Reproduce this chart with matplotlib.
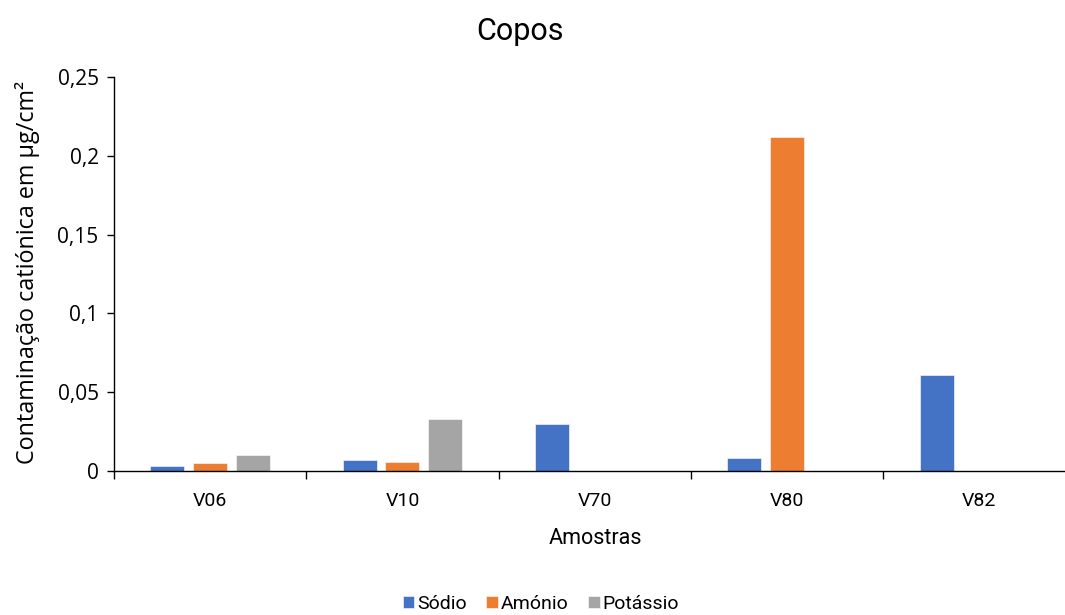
import matplotlib
matplotlib.use("Agg")
import matplotlib.pyplot as plt
import numpy as np

# data
amostras = ["V06", "V10", "V70", "V80", "V82"]
sodio = [0.003, 0.007, 0.030, 0.008, 0.061]
amonio = [0.005, 0.006, 0.0, 0.212, 0.0]
potassio = [0.010, 0.033, 0.0, 0.0, 0.0]

series = [("Sódio", sodio, "#4472C4"),
          ("Amónio", amonio, "#ED7D31"),
          ("Potássio", potassio, "#A5A5A5")]

narrow = ['Roboto', 'DejaVu Sans']
plain = ['Open Sans', 'DejaVu Sans']
plt.rcParams['font.family'] = plain

fig = plt.figure(figsize=(10.65, 6.15), dpi=100)
ax = fig.add_axes([114/1065, 1-471/615, 961.5/1065, 394/615])

x = np.arange(len(amostras))
w = 0.177
step = 0.222
for i, (nome, vals, cor) in enumerate(series):
    ax.bar(x + (i-1)*step, vals, width=w, color=cor, label=nome,
           edgecolor='white', linewidth=0.4)

ax.set_xlim(-0.5, len(amostras)-0.5)
ax.set_ylim(0, 0.25)
ax.set_yticks([0, 0.05, 0.1, 0.15, 0.2, 0.25])
ax.set_yticklabels(["0", "0,05", "0,1", "0,15", "0,2", "0,25"], fontsize=15)
ax.set_xticks(x)
ax.set_xticklabels(amostras, fontsize=14, family=narrow)
ax.tick_params(axis='x', length=0, pad=15)
ax.set_xticks(np.arange(-0.5, len(amostras)), minor=True)
ax.tick_params(axis='x', which='minor', length=6, width=1, direction='out')
ax.tick_params(axis='y', length=5, width=1, direction='out', pad=6)

for s in ['top', 'right']:
    ax.spines[s].set_visible(False)
ax.spines['left'].set_linewidth(1)
ax.spines['bottom'].set_linewidth(1)

fig.text(595/1065, 1-538/615, "Amostras", fontsize=15.5, family=narrow,
         ha='center', va='center')
fig.text(28/1065, 1-272/615, "Contaminação catiónica em µg/cm²", fontsize=16.8,
         rotation=90, ha='center', va='center')
fig.text(520/1065, 1-32/615, "Copos", fontsize=22, family=narrow,
         ha='center', va='center')

fig.legend(loc='center', bbox_to_anchor=(541/1065, 1-604/615), ncol=3,
           frameon=False, prop={'family': narrow, 'size': 14},
           handlelength=0.6, handleheight=0.6,
           handletextpad=0.15, columnspacing=1.0)

fig.savefig("out.png", dpi=100)
